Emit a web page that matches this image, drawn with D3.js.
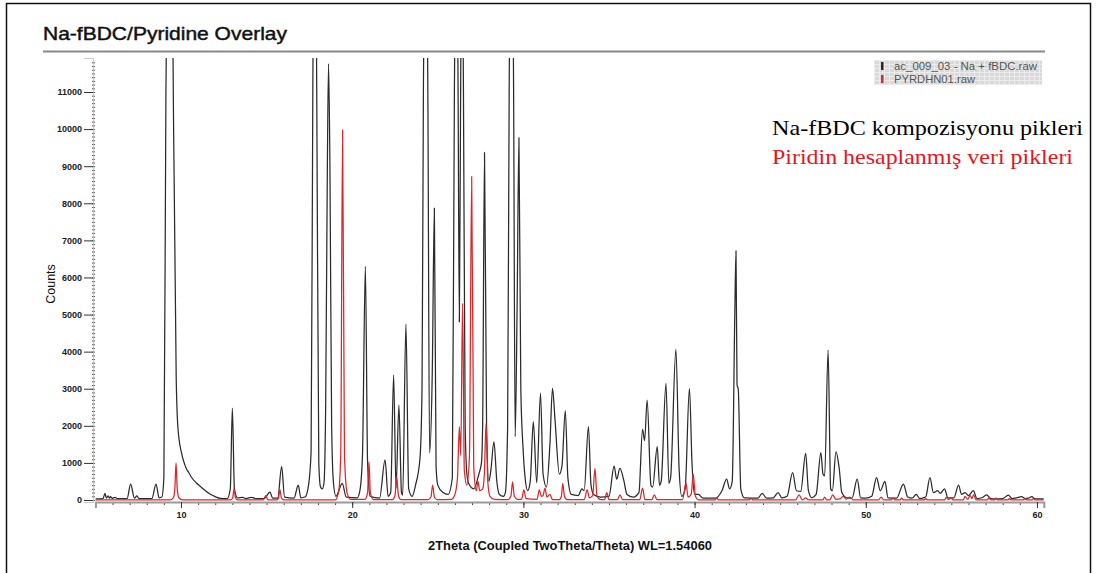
<!DOCTYPE html>
<html>
<head>
<meta charset="utf-8">
<script src="https://cdnjs.cloudflare.com/ajax/libs/d3/7.8.5/d3.min.js"></script>
<style>
  body { margin: 0; background: #fff; }
  svg { display: block; }
</style>
</head>
<body>
<svg id="chart" width="1097" height="573"></svg>
<script>
// values: [2theta, counts]
var naFbdc = [
  [5.0, 30], [5.45, 40], [5.56, 180], [5.64, 50], [5.75, 110], [5.82, 50], [5.89, 90], [5.97, 45], [6.14, 70], [6.3, 35],
  [6.85, 40], [7.06, 430], [7.28, 50], [7.42, 110], [7.55, 35],
  [8.3, 40], [8.54, 430], [8.72, 60],
  [8.88, 80], [9.0, 600], [9.12, 11000], [9.2, 15000], [9.33, 17000], [9.48, 15000], [9.55, 11000],
  [9.72, 3300], [9.82, 1950], [10.04, 1250], [10.2, 980], [10.33, 830], [10.45, 740], [10.63, 600], [10.9, 460], [11.1, 380],
  [11.4, 260], [11.69, 160], [12.0, 90], [12.3, 45],
  [12.7, 40], [12.88, 300], [13.0, 2480], [13.12, 300], [13.3, 60],
  [13.6, 70], [13.8, 40], [14.1, 70], [14.4, 40], [14.85, 40], [15.2, 210], [15.35, 50],
  [15.65, 50], [15.88, 900], [16.05, 80],
  [16.6, 50], [16.85, 400], [17.0, 60],
  [17.25, 80], [17.45, 400], [17.6, 1300], [17.7, 11000], [17.82, 18000], [17.93, 11000], [18.05, 1000], [18.15, 350],
  [18.25, 300], [18.35, 450], [18.45, 2500], [18.55, 9000], [18.62, 11760], [18.7, 9000], [18.8, 2000], [18.9, 500],
  [19.05, 100], [19.42, 450], [19.65, 80],
  [20.3, 60], [20.45, 250], [20.6, 1200], [20.77, 6300], [20.9, 1000], [21.05, 100],
  [21.6, 50], [21.92, 1080], [22.1, 100],
  [22.25, 200], [22.42, 3370], [22.56, 320], [22.73, 2560], [22.88, 200], [22.95, 130], [23.14, 4740], [23.3, 300], [23.5, 100],
  [23.7, 400], [23.96, 1120], [24.08, 3000], [24.16, 11000], [24.3, 16000], [24.42, 11000], [24.52, 1270],
  [24.68, 3500], [24.8, 7870], [24.9, 900], [25.0, 400], [25.3, 200], [25.6, 150],
  [25.85, 600], [25.97, 11000], [26.08, 16000], [26.18, 11500], [26.26, 4800], [26.34, 11500], [26.42, 15000], [26.5, 11000],
  [26.6, 2000], [26.7, 700], [26.8, 450], [27.1, 300], [27.4, 700], [27.55, 1000],
  [27.62, 2000], [27.73, 9370], [27.85, 2000], [27.98, 500],
  [28.1, 800], [28.28, 1570], [28.45, 500], [28.6, 150], [28.83, 100],
  [28.95, 200], [29.08, 2000], [29.17, 11000], [29.3, 17000], [29.43, 11000], [29.52, 1710],
  [29.63, 5000], [29.74, 9770], [29.85, 3000], [29.98, 1400], [30.1, 600], [30.25, 250],
  [30.4, 500], [30.58, 2110], [30.78, 460], [31.0, 2880], [31.15, 700], [31.35, 350],
  [31.55, 1500], [31.7, 3010], [31.85, 2150], [32.1, 700], [32.25, 900], [32.45, 2410], [32.6, 600], [32.8, 150],
  [33.2, 120], [33.42, 300], [33.55, 250], [33.8, 1975], [33.95, 400], [34.1, 150], [34.5, 80],
  [35.0, 100], [35.3, 915], [35.45, 560], [35.64, 850], [35.87, 520], [36.05, 150], [36.42, 80],
  [36.75, 200], [36.96, 1905], [37.08, 1600], [37.23, 2695], [37.45, 400], [37.55, 350], [37.82, 1440],
  [37.95, 400], [38.05, 500], [38.33, 3145], [38.5, 450], [38.6, 600], [38.91, 4060], [39.1, 800], [39.25, 100],
  [39.45, 300], [39.7, 3010], [39.85, 1000], [40.0, 150], [40.22, 150], [40.5, 50],
  [41.2, 50], [41.6, 250], [41.87, 560], [42.05, 300], [42.2, 500], [42.35, 5000], [42.42, 6720], [42.48, 3100],
  [42.55, 3000], [42.7, 300], [42.9, 60],
  [43.7, 50], [43.95, 180], [44.2, 50], [44.6, 60], [44.88, 200], [45.1, 60], [45.4, 100], [45.73, 735],
  [45.95, 250], [46.2, 230], [46.49, 1260], [46.65, 250], [46.85, 60], [47.1, 150], [47.38, 1275], [47.5, 700],
  [47.6, 650], [47.8, 4043], [47.95, 300], [48.05, 250], [48.26, 1300], [48.45, 850], [48.6, 200], [48.9, 60],
  [49.2, 50], [49.5, 560], [49.7, 60], [50.0, 50], [50.35, 100], [50.63, 606], [50.85, 250], [51.12, 500],
  [51.3, 60], [51.8, 50], [52.2, 431], [52.45, 80], [52.7, 50], [52.95, 150], [53.15, 40], [53.5, 80],
  [53.75, 600], [53.95, 200], [54.2, 250], [54.35, 180], [54.6, 300], [54.8, 60], [55.15, 60], [55.42, 400],
  [55.6, 150], [55.8, 200], [56.0, 120], [56.28, 250], [56.5, 40], [56.8, 60], [57.06, 140], [57.3, 40],
  [57.6, 30], [58.0, 40], [58.33, 130], [58.55, 40], [58.8, 60], [59.1, 90], [59.3, 40], [59.5, 50],
  [59.7, 90], [59.85, 40], [60.1, 30], [60.4, 30]
];

var pyridine = [
  [5.0, 0], [9.35, 0], [9.55, 60], [9.64, 300], [9.71, 1000], [9.78, 300], [9.88, 60], [10.1, 0],
  [12.9, 0], [13.02, 60], [13.1, 300], [13.18, 60], [13.3, 0],
  [14.8, 0], [14.95, 120], [15.08, 0],
  [15.6, 0], [15.7, 60], [15.78, 280], [15.86, 60], [16.0, 0],
  [19.0, 0], [19.2, 200], [19.33, 1200], [19.44, 9980], [19.55, 1200], [19.7, 200], [19.9, 20],
  [20.75, 20], [20.9, 200], [20.98, 1030], [21.06, 200], [21.25, 10],
  [22.35, 10], [22.5, 120], [22.6, 630], [22.7, 120], [22.85, 10],
  [24.45, 10], [24.6, 80], [24.7, 400], [24.8, 80], [24.95, 10],
  [25.8, 20], [26.0, 150], [26.15, 600], [26.26, 1980], [26.34, 1200], [26.45, 5300], [26.55, 800], [26.7, 400],
  [26.85, 1200], [26.98, 8720], [27.1, 900], [27.25, 250], [27.35, 500], [27.45, 250], [27.62, 300], [27.72, 700],
  [27.82, 2070], [27.92, 500], [28.05, 100], [28.3, 20],
  [29.1, 10], [29.27, 100], [29.37, 490], [29.47, 100], [29.65, 20],
  [29.9, 20], [30.03, 270], [30.15, 40],
  [30.8, 20], [30.93, 270], [31.05, 100], [31.15, 120], [31.26, 320], [31.38, 80], [31.55, 150], [31.7, 10],
  [32.1, 10], [32.22, 100], [32.3, 450], [32.4, 100], [32.55, 10],
  [33.55, 10], [33.73, 270], [33.85, 60], [34.05, 120], [34.18, 850], [34.3, 100], [34.5, 10],
  [34.75, 10], [34.87, 200], [35.0, 10],
  [35.5, 10], [35.64, 135], [35.8, 10],
  [36.8, 10], [36.96, 320], [37.1, 10],
  [37.5, 10], [37.65, 135], [37.8, 10],
  [39.3, 10], [39.5, 460], [39.62, 80], [39.8, 150], [39.92, 700], [40.05, 100], [40.25, 0],
  [41.2, 0], [41.3, 60], [41.4, 0], [43.2, 0], [43.3, 50], [43.4, 0],
  [45.9, 0], [46.1, 135], [46.3, 0], [46.5, 60], [46.65, 0], [47.5, 0], [47.6, 80], [47.72, 0],
  [47.9, 0], [48.07, 135], [48.25, 20], [48.5, 30], [48.68, 100], [48.85, 20], [49.07, 80], [49.25, 0],
  [50.75, 0], [50.9, 80], [51.05, 0], [51.5, 0], [51.6, 60], [51.7, 0], [52.0, 0], [52.1, 50], [52.2, 0],
  [53.4, 0], [53.5, 40], [53.6, 0], [54.6, 0], [54.7, 70], [54.85, 10], [55.0, 60], [55.1, 0],
  [55.7, 0], [55.8, 100], [55.95, 20], [56.1, 120], [56.2, 40], [56.3, 140], [56.45, 0],
  [57.1, 0], [57.2, 60], [57.3, 0], [57.5, 0], [57.6, 50], [57.7, 0], [58.3, 0], [58.4, 40], [58.5, 0],
  [59.2, 0], [59.3, 40], [59.4, 0], [59.7, 0], [59.8, 40], [59.9, 0], [60.4, 0]
];

var yTicks = [0, 1000, 2000, 3000, 4000, 5000, 6000, 7000, 8000, 9000, 10000, 11000];
var xTicks = [10, 20, 30, 40, 50, 60];
var legendNames = ["ac_009_03 - Na + fBDC.raw", "PYRDHN01.raw"];
var noteLines = ["Na-fBDC kompozisyonu pikleri", "Piridin hesaplanmış veri pikleri"];

var translate = function(x, y) { return "translate(" + x + "," + y + ")"; };

var svg = d3.select("#chart");
var lineColor = ["#2b2b2b", "#d8282c"];
var sans = "Liberation Sans, Arial, sans-serif";

var x = d3.scaleLinear().domain([5, 60.4]).range([95.4, 1043.8]);
var y = d3.scaleLinear().domain([-54, 11917]).range([502, 58]);

// outer frame
svg.append("rect")
  .attr("x", 6.5).attr("y", 3.5)
  .attr("width", 1084).attr("height", 580)
  .attr("fill", "none").attr("stroke", "#111").attr("stroke-width", 1.5);

// title + rule (the scan is a bit stretched sideways, so texts get a fixed length)
svg.append("text")
  .attr("x", 43).attr("y", 40)
  .attr("textLength", 244).attr("lengthAdjust", "spacingAndGlyphs")
  .style("font-family", sans)
  .style("font-size", "18.5px")
  .style("fill", "#111")
  .style("stroke", "#111")
  .style("stroke-width", 0.45)
  .text("Na-fBDC/Pyridine Overlay");

svg.append("line")
  .attr("x1", 43).attr("x2", 1045)
  .attr("y1", 51.5).attr("y2", 51.5)
  .attr("stroke", "#8a8a8a").attr("stroke-width", 2);

// clip for the peaks that run off the top
svg.append("defs").append("clipPath").attr("id", "plotclip")
  .append("rect")
  .attr("x", x.range()[0]).attr("y", y.range()[1])
  .attr("width", x.range()[1] - x.range()[0])
  .attr("height", y.range()[0] - y.range()[1]);

// y axis: minor ticks then labelled ones
var yMinor = d3.range(0, 11900, 100);
var gyMinor = svg.append("g")
  .attr("transform", translate(92, 0))
  .call(d3.axisRight(y).tickValues(yMinor).tickSize(3).tickFormat(""));
gyMinor.select(".domain").remove();
gyMinor.selectAll("line").attr("stroke", "#555");

var gy = svg.append("g")
  .attr("transform", translate(93, 0))
  .call(d3.axisLeft(y).tickValues(yTicks).tickSize(9).tickPadding(2).tickFormat(d3.format("d")));
gy.select(".domain").attr("stroke", "#bbb").attr("stroke-width", 0.8);
gy.selectAll(".tick line").attr("stroke", "#333");
gy.selectAll("text")
  .style("font-family", sans)
  .style("font-size", "9px")
  .style("font-weight", "bold")
  .style("fill", "#222");

// x axis
var gxMinor = svg.append("g")
  .attr("transform", translate(0, 502))
  .call(d3.axisBottom(x).tickValues(d3.range(6, 61, 1)).tickSize(3).tickFormat(""));
gxMinor.select(".domain").remove();
gxMinor.selectAll("line").attr("stroke", "#444");

var gx = svg.append("g")
  .attr("transform", translate(0, 502))
  .call(d3.axisBottom(x).tickValues(xTicks).tickSize(6).tickPadding(4));
gx.select(".domain").attr("stroke", "#9a9a9a").attr("stroke-width", 2);
gx.selectAll(".tick line").attr("stroke", "#333");
gx.selectAll("text")
  .style("font-family", sans)
  .style("font-size", "9px")
  .style("font-weight", "bold")
  .style("fill", "#222");

// traces
var line = d3.line()
  .x(function(d) { return x(d[0]); })
  .y(function(d) { return y(d[1]); })
  .curve(d3.curveMonotoneX);

var plot = svg.append("g").attr("clip-path", "url(#plotclip)");
[naFbdc, pyridine].forEach(function(series, i) {
  plot.append("path")
    .datum(series)
    .attr("d", line)
    .attr("fill", "none")
    .attr("stroke", lineColor[i])
    .attr("stroke-width", 1.25)
    .attr("stroke-linejoin", "round");
});

// axis titles
svg.append("text")
  .attr("x", 428).attr("y", 550)
  .attr("textLength", 284).attr("lengthAdjust", "spacingAndGlyphs")
  .style("font-family", sans)
  .style("font-size", "12px")
  .style("font-weight", "bold")
  .style("fill", "#111")
  .text("2Theta (Coupled TwoTheta/Theta) WL=1.54060");

svg.append("text")
  .attr("transform", translate(55, 284) + " rotate(-90)")
  .attr("text-anchor", "middle")
  .style("font-family", sans)
  .style("font-size", "12.5px")
  .style("fill", "#111")
  .text("Counts");

// legend box with the grid texture
var pat = svg.select("defs").append("pattern")
  .attr("id", "grid").attr("width", 5).attr("height", 4)
  .attr("patternUnits", "userSpaceOnUse");
pat.append("rect").attr("width", 5).attr("height", 4).attr("fill", "#d9d9d9");
pat.append("path").attr("d", "M0,0.5H5M0.5,0V4").attr("stroke", "#ececec").attr("stroke-width", 1);

var legend = svg.append("g").attr("transform", translate(874, 60));
legend.append("rect")
  .attr("width", 168).attr("height", 25)
  .attr("fill", "url(#grid)");

var legendLen = [143, 81];
legend.selectAll(".entry")
  .data(legendNames)
  .enter().append("g")
  .attr("class", "entry")
  .attr("transform", function(d, i) { return translate(0, 6 + i * 13); })
  .each(function(d, i) {
    var g = d3.select(this);
    g.append("rect")
      .attr("x", 7).attr("y", -4).attr("width", 2.5).attr("height", 8)
      .attr("fill", lineColor[i]);
    g.append("text")
      .attr("x", 20).attr("y", 4)
      .attr("textLength", legendLen[i]).attr("lengthAdjust", "spacingAndGlyphs")
      .style("font-family", sans)
      .style("font-size", "10.5px")
      .style("fill", "#555")
      .text(d);
  });

// notes at the right
var noteLen = [311, 301];
svg.selectAll(".note")
  .data(noteLines)
  .enter().append("text")
  .attr("class", "note")
  .attr("x", 772)
  .attr("y", function(d, i) { return 135 + i * 29; })
  .attr("textLength", function(d, i) { return noteLen[i]; })
  .attr("lengthAdjust", "spacingAndGlyphs")
  .style("font-family", "Liberation Serif, Times New Roman, serif")
  .style("font-size", "21.5px")
  .style("fill", function(d, i) { return i === 0 ? "#000" : "#e8141b"; })
  .text(function(d) { return d; });
</script>
</body>
</html>
